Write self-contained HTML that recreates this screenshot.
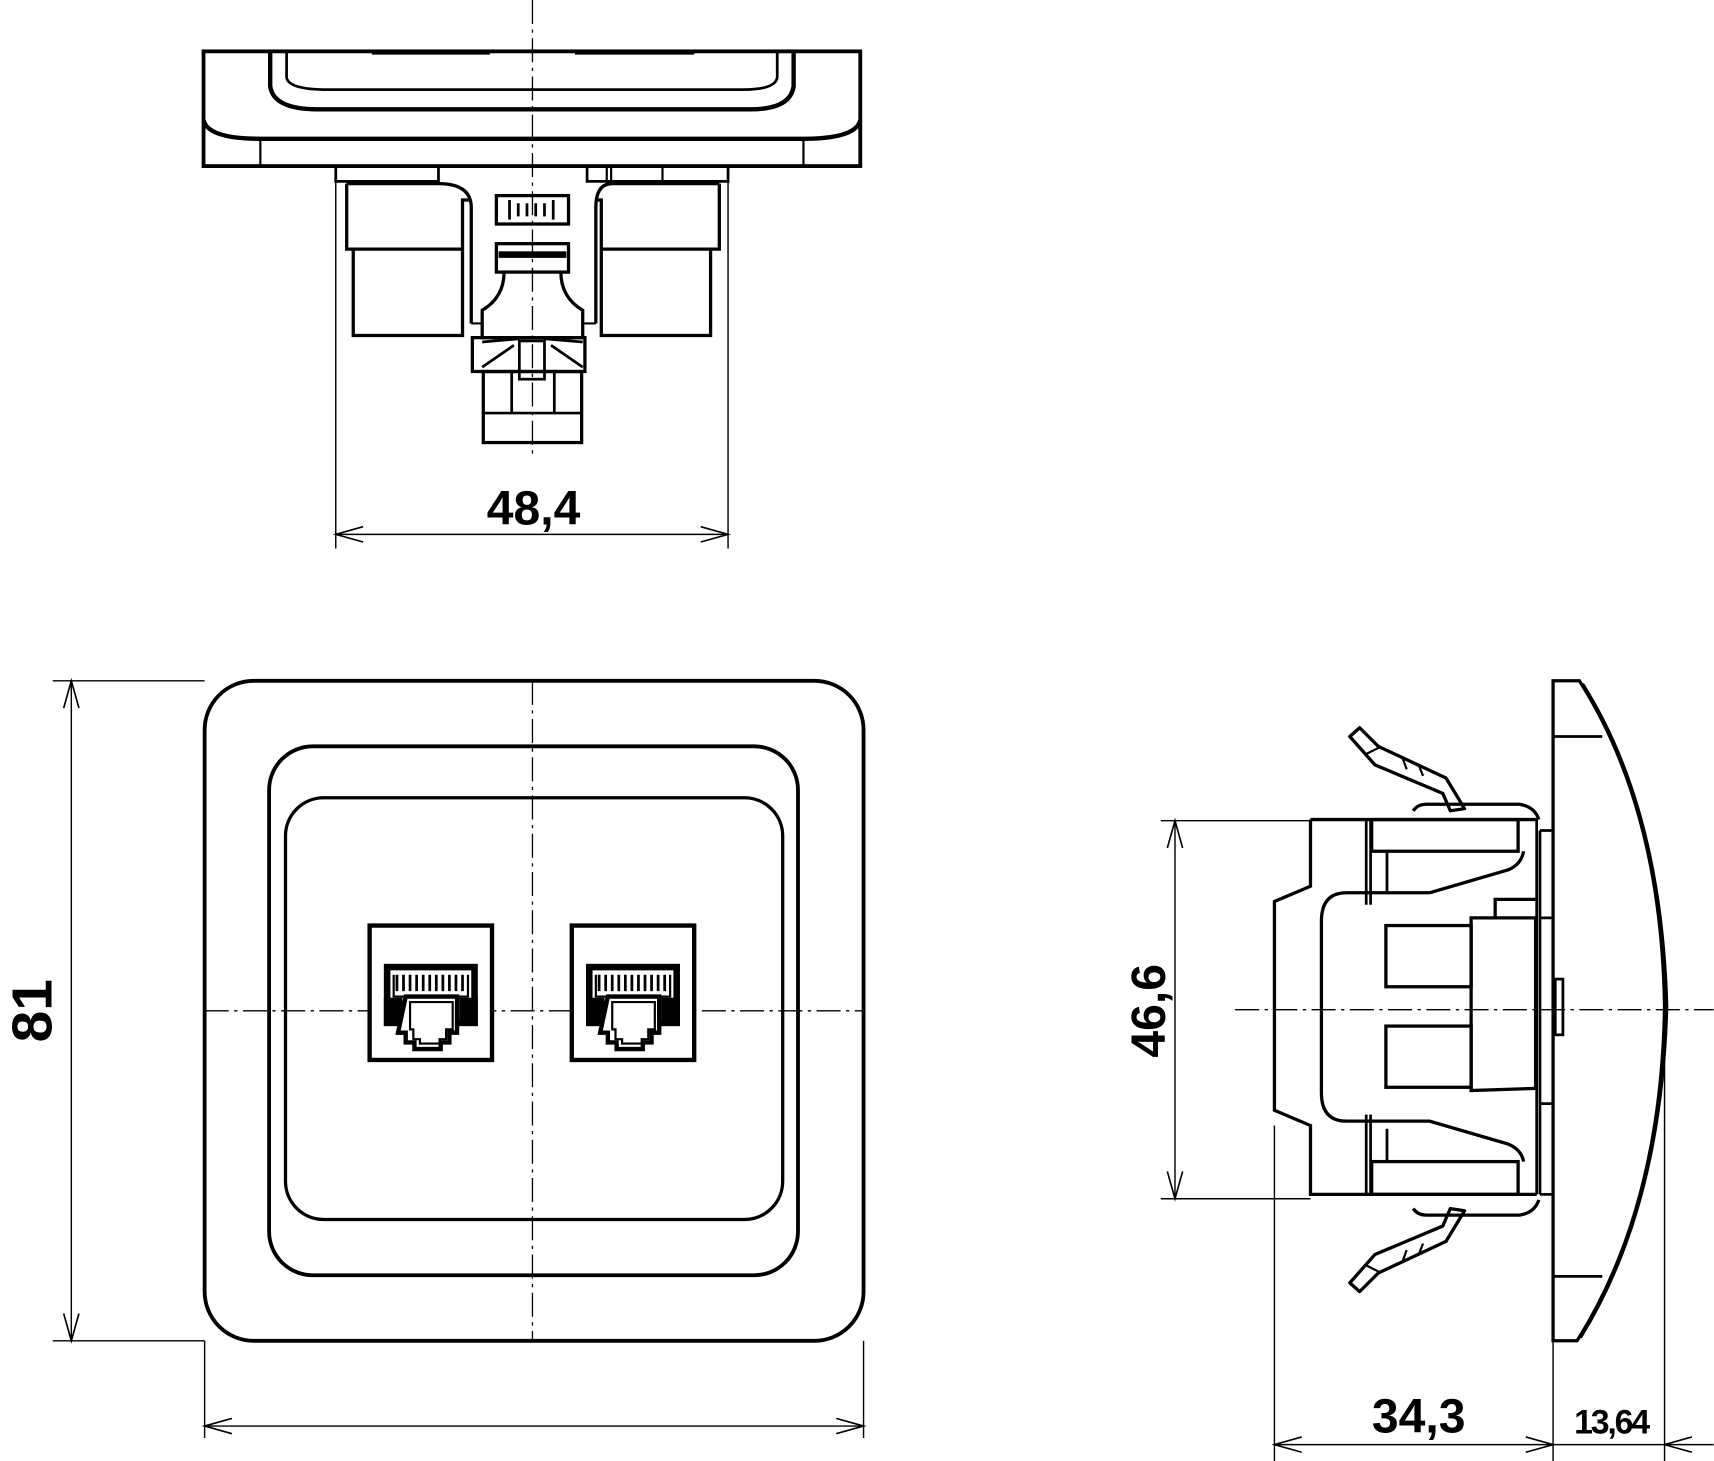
<!DOCTYPE html>
<html><head><meta charset="utf-8"><style>
html,body{margin:0;padding:0;background:#fff;}
svg{display:block;}
text{font-family:"Liberation Sans",sans-serif;font-weight:bold;fill:#000;}
</style></head><body>
<svg width="1714" height="1461" viewBox="0 0 1568 1337" xmlns="http://www.w3.org/2000/svg">
<defs>
<g id="jack">
  <rect x="0" y="0" width="112" height="123" fill="#fff" stroke="#000" stroke-width="4"/>
  <rect x="13" y="35" width="86" height="57" fill="#000"/>
  <rect x="19" y="41" width="74" height="45" fill="#fff"/>
  <path d="M22,45 v20 h68 v-20" fill="none" stroke="#000" stroke-width="2"/>
  <path d="M25,45v15M31,45v15M37,45v15M43,45v15M49,45v15M55,45v15M61,45v15M67,45v15M73,45v15M79,45v15M85,45v15" stroke="#000" stroke-width="2.5"/>
  <rect x="13" y="66" width="17" height="26" fill="#000"/>
  <rect x="82" y="66" width="17" height="26" fill="#000"/>
  <path d="M33,65 h47 v33 h-7 v9 h-8 v6 h-24 v-6 h-8 v-9 h-7 z" fill="#fff" stroke="#000" stroke-width="4"/>
  <path d="M37,70 h39 v25 h-6 v9 h-6 v4 h-18 v-4 h-6 v-9 h-3 z" fill="#fff" stroke="#000" stroke-width="2"/>
</g>
<g id="clip">
  <polygon points="1235,674 1244,666 1261,683 1323,712 1340,740 1327,742 1320,726 1258,700" fill="#fff" stroke="#000" stroke-width="3" stroke-linejoin="round"/>
  <path d="M1250,690 L1262,684 M1283,693 L1287,704 M1298,700 L1302,710" stroke="#000" stroke-width="2"/>
  <path d="M1293,742 Q1297,736 1305,736 L1390,736 Q1404,738 1408,750" fill="none" stroke="#000" stroke-width="3"/>
</g>
</defs>

<g fill="none" stroke="#000">
<!-- ============ TOP VIEW ============ -->
<rect x="186" y="47" width="601" height="105" stroke-width="3.5"/>
<path d="M186,110 Q190,127 238,127 L735,127 Q783,127 787,110" stroke-width="4"/>
<path d="M238,127 V152 M735,127 V152" stroke-width="2"/>
<path d="M247,47 V79 Q250,100 290,100 L687,100 Q723,100 726,79 V47" stroke-width="4"/>
<path d="M262,47 V71 Q264,82 300,82 L680,82 Q709,82 711,71 V47" stroke-width="2.5"/>
<path d="M340,48 H448 M526,48 H635" stroke-width="4"/>
<!-- under plate -->
<path d="M307,152 V166 H401 V152 M537,152 V166 H666 V152" stroke-width="2.5"/>
<path d="M555,152 V166 M559,152 V166 M606,152 V166" stroke-width="2"/>
<path d="M317,168 H401 Q431,168 431,190 V296 M317,168 V228 H423 M323,228 V307 H423 V183 H431" stroke-width="3"/>
<path d="M658,168 H560 Q545,168 545,190 V296 M658,168 V228 H550 M650,228 V307 H550 V183 H545" stroke-width="3"/>
<path d="M431,296 H441 M545,296 H533" stroke-width="2"/>
<rect x="454" y="179" width="66" height="26" stroke-width="3"/>
<path d="M466,183 V201 M474,186 V198 M482,186 V198 M490,186 V198 M498,186 V198 M506,183 V201" stroke-width="2.5"/>
<rect x="454" y="223" width="66" height="26" stroke-width="3"/>
<rect x="456" y="230" width="62" height="6" fill="#000" stroke="none"/>
<path d="M461,249 Q461,272 441,284 V309 H533 V284 Q513,272 513,249" stroke-width="3"/>
<path d="M432,309 H535 V340 H432 Z" stroke-width="3"/>
<path d="M441,313 L475,310 M533,313 L498,310 M441,336 L470,316 M533,336 L504,316" stroke-width="2.5"/>
<rect x="475" y="312" width="23" height="35" stroke-width="2.5"/>
<rect x="442" y="340" width="90" height="65" stroke-width="3"/>
<path d="M442,378 H532 M468,340 V378 M507,340 V378" stroke-width="2.5"/>
<!-- dims top -->
<path d="M307,166 V502 M666,166 V502" stroke-width="1.3"/>
<path d="M307,489 H666" stroke-width="1.3"/>
<path d="M332,482 L307,489 L332,496 M641,482 L666,489 L641,496" stroke-width="1.5"/>
<path d="M487,0 V420" stroke-width="1.2" stroke-dasharray="22,5,3,5"/>

<!-- ============ FRONT VIEW ============ -->
<rect x="187" y="623" width="603" height="604" rx="45" stroke-width="3.5"/>
<rect x="246" y="683" width="484" height="484" rx="40" stroke-width="3.5"/>
<rect x="261" y="730" width="455" height="386" rx="35" stroke-width="3"/>
<path d="M487,623 V1227 M187,925 H790" stroke-width="1.2" stroke-dasharray="22,5,3,5"/>
<!-- dims front -->
<path d="M48,623 H187 M48,1227 H187 M65,623 V1227" stroke-width="1.3"/>
<path d="M58,648 L65,623 L72,648 M58,1202 L65,1227 L72,1202" stroke-width="1.5"/>
<path d="M187,1227 V1316 M790,1227 V1316 M187,1305 H790" stroke-width="1.3"/>
<path d="M212,1298 L187,1305 L212,1312 M765,1298 L790,1305 L765,1312" stroke-width="1.5"/>

<!-- ============ SIDE VIEW ============ -->
<path d="M1421,623 H1445 Q1520,740 1523,921 Q1520,1105 1443,1227 H1421 Z" stroke-width="3"/>
<path d="M1448,626 Q1520,740 1525,921 Q1520,1105 1446,1224" stroke-width="3"/>
<path d="M1421,674 H1466 M1421,1168 H1466" stroke-width="2.5"/>
<rect x="1423" y="896" width="7" height="51" stroke-width="2.5"/>
<path d="M1199,750 V811 L1166,825 V1016 L1199,1030 V1093 H1406 M1199,750 H1406" stroke-width="3"/>
<path d="M1250,750 V828 M1250,1020 V1093 M1254,750 V828 M1254,1020 V1093" stroke-width="2.5"/>
<path d="M1269,779 V817 M1269,1033 V1063" stroke-width="2.5"/>
<rect x="1255" y="750" width="134" height="29" stroke-width="3"/>
<rect x="1255" y="1063" width="134" height="30" stroke-width="3"/>
<path d="M1308,817 L1380,796 Q1392,791 1394,779 M1308,817 H1232 Q1209,817 1209,843 V1000 Q1209,1026 1232,1026 H1308 L1380,1047 Q1392,1052 1394,1063" stroke-width="3"/>
<rect x="1268" y="847" width="78" height="56" stroke-width="3"/>
<rect x="1268" y="939" width="78" height="56" stroke-width="3"/>
<path d="M1346,840 H1405 V996 L1346,998 Z M1368,840 V823 H1405" stroke-width="3"/>
<path d="M1406,750 V1093 M1409,760 V1093 M1409,760 H1421 M1409,840 H1421 M1409,1010 H1421 M1409,1093 H1421" stroke-width="2.5"/>
<use href="#clip"/>
<use href="#clip" transform="translate(0,1848) scale(1,-1)"/>
<!-- dims side -->
<path d="M1062,751 H1199 M1062,1097 H1199 M1075,751 V1097" stroke-width="1.3"/>
<path d="M1068,776 L1075,751 L1082,776 M1068,1072 L1075,1097 L1082,1072" stroke-width="1.5"/>
<path d="M1166,1030 V1337 M1421,1227 V1337 M1523,921 V1337" stroke-width="1.3"/>
<path d="M1166,1322 H1568" stroke-width="1.3"/>
<path d="M1191,1315 L1166,1322 L1191,1329 M1396,1315 L1421,1322 L1396,1329 M1548,1315 L1523,1322 L1548,1329" stroke-width="1.5"/>
<path d="M1130,924 H1568" stroke-width="1.2" stroke-dasharray="22,5,3,5"/>
</g>

<use href="#jack" x="338" y="847"/>
<use href="#jack" x="523" y="847"/>

<text x="488" y="480" font-size="44" text-anchor="middle">48,4</text>
<text transform="translate(47,925) rotate(-90)" font-size="52" text-anchor="middle">81</text>
<text transform="translate(1066,925) rotate(-90)" font-size="44" text-anchor="middle">46,6</text>
<text x="1298" y="1311" font-size="44" text-anchor="middle">34,3</text>
<text x="1474" y="1312" font-size="31" text-anchor="middle" letter-spacing="-2">13,64</text>
</svg>
</body></html>
